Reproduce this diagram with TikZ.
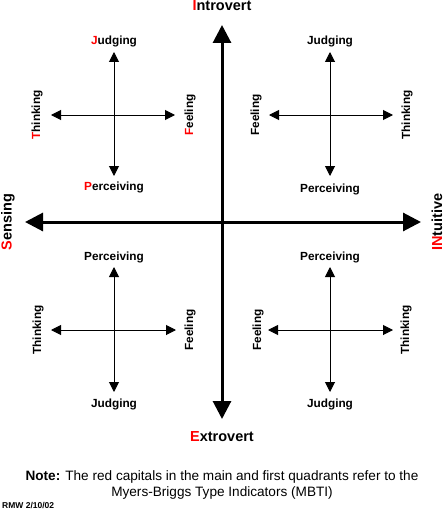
\documentclass[tikz,border=0pt]{standalone}
\usepackage{fontspec}
\setmainfont{Liberation Sans}
\usetikzlibrary{arrows.meta}
\begin{document}
\begin{tikzpicture}[x=1pt,y=-1pt,
  mainaxis/.style={line width=3pt,{Triangle[length=18pt,width=18pt]}-{Triangle[length=18pt,width=18pt]}},
  subaxis/.style={line width=1pt,{Triangle[length=10pt,width=10pt]}-{Triangle[length=10pt,width=10pt]}},
  axlabel/.style={font=\fontsize{14.5}{15}\selectfont\bfseries,inner sep=0pt},
  sublabel/.style={font=\fontsize{11.8}{12}\selectfont\bfseries,inner sep=0pt}]
\useasboundingbox (0,0) rectangle (444,511);
\newcommand{\rcap}[1]{\textcolor{red}{#1}}
% main axes
\coordinate (mT) at (222,25);
\coordinate (mB) at (222,419);
\coordinate (mL) at (25,222);
\coordinate (mR) at (421,222);
\draw[mainaxis] (mB) -- (mT);
\draw[mainaxis] (mL) -- (mR);
\node[axlabel] (intro) at (222,6) {\rcap{I}ntrovert};
\node[axlabel] (extro) at (222,437) {\rcap{E}xtrovert};
\node[axlabel,rotate=90] (sens) at (8,222) {\rcap{S}ensing};
\node[axlabel,rotate=90] (intu) at (437,222) {\rcap{IN}tuitive};
% quadrant 1 (top-left)
\coordinate (aT) at (114,52);
\coordinate (aB) at (114,176);
\coordinate (aL) at (51,115);
\coordinate (aR) at (175,115);
\draw[subaxis] (aT) -- (aB);
\draw[subaxis] (aL) -- (aR);
\node[sublabel] (aJ) at (114,41) {\rcap{J}udging};
\node[sublabel] (aP) at (114,187) {\rcap{P}erceiving};
\node[sublabel,rotate=90] (aTh) at (37,115) {\rcap{T}hinking};
\node[sublabel,rotate=90] (aF) at (190,115) {\rcap{F}eeling};
% quadrant 2 (top-right)
\coordinate (bT) at (330,52);
\coordinate (bB) at (330,176);
\coordinate (bL) at (269,115);
\coordinate (bR) at (393,115);
\draw[subaxis] (bT) -- (bB);
\draw[subaxis] (bL) -- (bR);
\node[sublabel] (bJ) at (330,41) {Judging};
\node[sublabel] (bP) at (330,189) {Perceiving};
\node[sublabel,rotate=90] (bF) at (256,115) {Feeling};
\node[sublabel,rotate=90] (bTh) at (407,115) {Thinking};
% quadrant 3 (bottom-left)
\coordinate (cT) at (114,267);
\coordinate (cB) at (114,392);
\coordinate (cL) at (51,330);
\coordinate (cR) at (176,330);
\draw[subaxis] (cT) -- (cB);
\draw[subaxis] (cL) -- (cR);
\node[sublabel] (cP) at (114,257) {Perceiving};
\node[sublabel] (cJ) at (114,404) {Judging};
\node[sublabel,rotate=90] (cTh) at (38,330) {Thinking};
\node[sublabel,rotate=90] (cF) at (190,330) {Feeling};
% quadrant 4 (bottom-right)
\coordinate (dT) at (330,267);
\coordinate (dB) at (330,392);
\coordinate (dL) at (268,330);
\coordinate (dR) at (393,330);
\draw[subaxis] (dT) -- (dB);
\draw[subaxis] (dL) -- (dR);
\node[sublabel] (dP) at (330,257) {Perceiving};
\node[sublabel] (dJ) at (330,404) {Judging};
\node[sublabel,rotate=90] (dF) at (258,330) {Feeling};
\node[sublabel,rotate=90] (dTh) at (406,330) {Thinking};
% note
\node[inner sep=0pt,align=center,font=\fontsize{13.6}{16}\selectfont] (note) at (222,485)
  {\textbf{Note:} The red capitals in the main and first quadrants refer to the\\Myers-Briggs Type Indicators (MBTI)};
\node[inner sep=0pt,anchor=west,font=\fontsize{8.5}{9}\selectfont\bfseries] (rmw) at (2,505.5) {RMW 2/10/02};
\end{tikzpicture}
\end{document}
